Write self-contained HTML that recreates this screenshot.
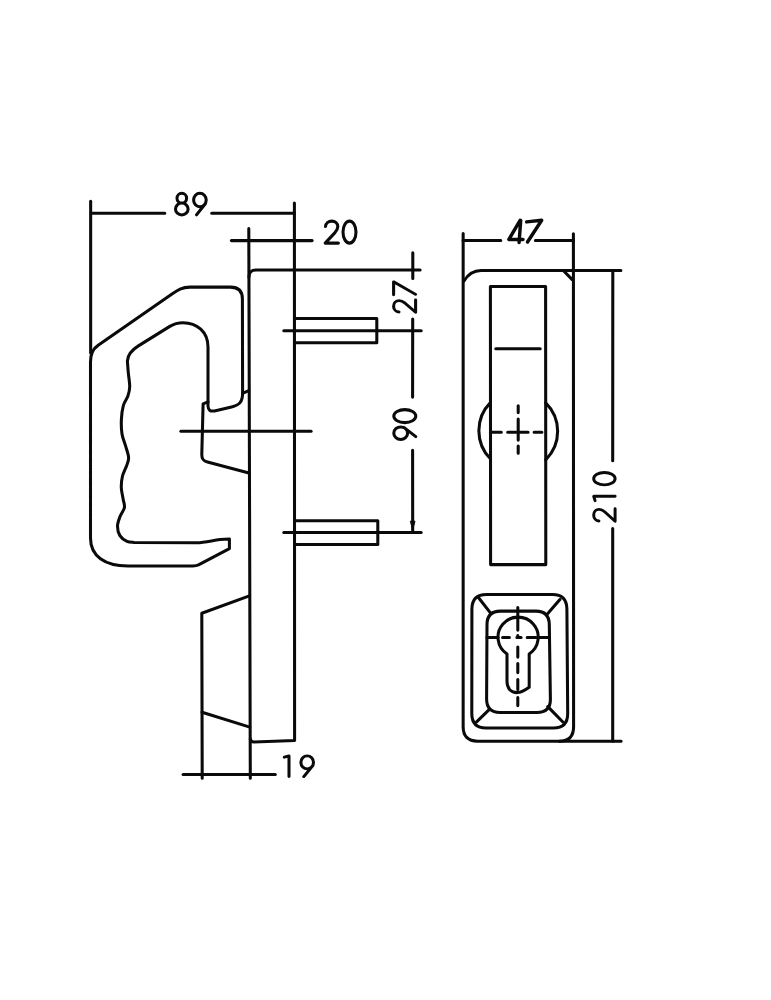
<!DOCTYPE html>
<html><head><meta charset="utf-8"><title>Drawing</title>
<style>
html,body{margin:0;padding:0;background:#ffffff;font-family:"Liberation Sans",sans-serif;}
body{width:771px;height:1000px;overflow:hidden;}
svg{display:block;}
</style></head><body>
<svg width="771" height="1000" viewBox="0 0 771 1000">
<rect width="771" height="1000" fill="#ffffff"/>
<g fill="none" stroke="#0a0a0a" stroke-width="3.05" stroke-linecap="round" stroke-linejoin="round">
<path d="M90.65,201.20000000000002 L90.65,353" />
<path d="M91.5,213.15 L164.79999999999998,213.15 M211.70000000000002,213.15 L294.4,213.15" />
<path d="M294.4,202.9 L294.6,740.6 L254,742.0 Q250.6,742.0 250.3,739" />
<path d="M248.8,228.6 L250.3,778.3000000000001" />
<path d="M231.4,240.6 L312.1,240.6" />
<path d="M248.95,277 Q248.95,270.0 256,270.0 L420.1,270.0" />
<path d="M412.8,252.8 L412.8,278.5 M412.7,319.09999999999997 L412.6,397.1 M412.6,450.2 L412.7,531.6" />
<path d="M295,318.4 L376.8,318.4 L376.8,342.7 L295,342.7" />
<path d="M283.79999999999995,330.7 L421.20000000000005,330.7" />
<path d="M295,520.8 L377.8,520.8 L377.8,544.5 L295,544.5" />
<path d="M410.7,521.2 L415,521.2 L412.8,529.5 Z" fill="#0a0a0a" stroke-width="1"/>
<path d="M283.79999999999995,532.5 L421.20000000000005,532.5" />
<path d="M180.9,431.3 L311.1,431.3" />
<path d="M90.5,362 C90.5,354 92.5,349 97.8,345.6 L172,294 C177.5,290.2 182,287.1 190,287.1 L230.5,287.1 C238.5,287.1 242.4,291 242.4,299 L242.6,393 C242.6,402 239.5,405 231.5,406.9 L214.5,410.9 C210,411.6 208.2,410 208,406 L208,347 C208,332 197,322.7 183,322.7 C177.5,322.7 174,323.8 169.8,326.4 L138.4,345.9 C131.5,350.2 127.6,354.5 127.4,361.1 C127.55,363.03 127.92,368.43 128.30,372.70 C128.68,376.97 129.77,382.80 129.70,386.70 C129.63,390.60 128.95,392.98 127.90,396.10 C126.85,399.22 124.48,401.52 123.40,405.40 C122.32,409.28 121.63,414.63 121.40,419.40 C121.17,424.17 121.32,429.62 122.00,434.00 C122.68,438.38 124.40,441.80 125.50,445.70 C126.60,449.60 128.40,454.10 128.60,457.40 C128.80,460.70 127.72,462.40 126.70,465.50 C125.68,468.60 123.40,472.30 122.50,476.00 C121.60,479.70 121.18,483.80 121.30,487.70 C121.42,491.60 122.68,496.08 123.20,499.40 C123.72,502.72 124.95,504.68 124.40,507.60 C123.85,510.52 121.05,513.80 119.90,516.90 C118.75,520.00 117.50,523.08 117.50,526.20 C117.50,529.32 118.32,533.07 119.90,535.60 C121.48,538.13 124.65,540.27 127.00,541.40 C129.35,542.53 132.83,542.23 134.00,542.40 L196.7,542.7 C205,542.5 212,540.5 220.1,539.5 L229.4,539 L229.4,548.6 L198.5,564.9 C196.5,565.8 195,565.9 193,565.9 L128,565.9 C104.5,565.9 90.5,556 90.5,538 Z" />
<path d="M208,401.9 L203.1,403.9 L201.8,454.5 C201.7,459.3 203.3,461 207.5,462 L248.9,473.0" />
<path d="M242.5,393.3 L248.8,390.6" />
<path d="M249.4,595.9 L201.8,613.3 L202.2,778.3000000000001" />
<path d="M202,712.2 L249.8,727.1" />
<path d="M183.1,774.5 L275.3,774.5" />
<path d="M463.15,233.6 L463.15,726.5 C463.1,736 468,741.2 477.5,741.2 L621.1,741.2" />
<path d="M463.8,281.2 C467.5,275 472.5,270.45 481,270.45 L620.9,270.45" />
<path d="M573.4,233.8 L573.6,726.5 C573.6,736 569,741.2 559.5,741.2" />
<path d="M564,271.3 L572,279.4" />
<path d="M463.1,240.45 L500.8,240.45 M535.4,240.45 L573.4,240.45" />
<path d="M612.8,270.45 L612.7,460.8 M612.7,528.4 L612.7,741.2" />
<path d="M490.4,286.4 L545.6,286.4 L545.8,564.6 L490.6,564.6 Z" />
<path d="M495.79999999999995,348.8 L540.2,348.8" />
<path d="M490.4,402.6 A40,40 0 0 0 490.4,458.8" />
<path d="M545.7,402.8 A40,40 0 0 1 545.7,459.8" />
<path d="M490.4,432.2 L501.3,432.2 M507.7,432.2 L528.1,432.2 M534.1,432.2 L541.9,432.2" />
<path d="M518.2,405.7 L518.2,412.6 M518.2,419.09999999999997 L518.2,440.1 M518.2,446.0 L518.2,453.20000000000005" />
<path d="M486.5,594.4 L552.5,594.4 C562.5,594.4 566.8,599.5 566.9,609 L567.7,713.5 C567.7,723 563,728 553.5,728 L486,728 C476.5,728 471.8,723 471.8,713.5 L471.9,609 C471.9,599.5 476.5,594.4 486.5,594.4 Z" />
<path d="M500.5,611.1 L536,611.1 C545,611.1 549.2,615.8 549.3,624.5 L550.4,699.5 C550.4,708.2 546,712.4 537,712.4 L500,712.4 C491,712.4 486.6,708.2 486.6,699 L487,624.5 C487,615.8 491.5,611.1 500.5,611.1 Z" />
<path d="M478.6,597.8 L491,613.6 M559.9,599.5 L547.8,613.6 M476.6,721.8 L489.4,709.3 M562.6,721.8 L547.8,706.6" />
<path d="M507,654 A20.1,20.1 0 1 1 529.2,654 L529.2,687.2 C524.5,690.5 521,692.5 517.4,692.6 C510.5,692.6 507,688 507,681 Z" />
<path d="M487,637.4 L498,637.4 M502.59999999999997,637.4 L509.40000000000003,637.4 M516.9,637.4 L521.1,637.4 M527.1999999999999,637.4 L536.1,637.4 M538.2,637.4 L549.5,637.4" />
<path d="M517.8,607.4 L517.8,630.1 M517.8,635.4 L517.8,637.1 M517.8,646.9 L517.8,657.1 M517.8,663.4 L517.8,672.6 M517.8,679.4 L517.8,689.6 M517.8,697.4 L517.8,705.6" />
</g>
<g fill="none" stroke="#0a0a0a" stroke-width="3.05" stroke-linecap="round" stroke-linejoin="round">
<g transform="translate(175.5,214.9) rotate(0) scale(1,0.9818181818181819)"><path transform="translate(0,0)" d="M6.3,-22 C9,-22 11.1,-19.8 11.1,-17 C11.1,-14.2 9,-12 6.3,-12 C3.6,-12 1.5,-14.2 1.5,-17 C1.5,-19.8 3.6,-22 6.3,-22 Z M6.3,-12 C9.8,-12 12.6,-9.3 12.6,-6 C12.6,-2.7 9.8,0 6.3,0 C2.8,0 0,-2.7 0,-6 C0,-9.3 2.8,-12 6.3,-12 Z"/><path transform="translate(18.1,0)" d="M6.3,-22 C9.8,-22 12.6,-18.9 12.6,-15.1 C12.6,-11.3 9.8,-8.2 6.3,-8.2 C2.8,-8.2 0,-11.3 0,-15.1 C0,-18.9 2.8,-22 6.3,-22 Z M11.9,-11.6 L2.9,0"/></g>
<g transform="translate(325.2,243.1) rotate(0) scale(1,1)"><path transform="translate(0,0)" d="M0.3,-16.6 C0.5,-19.8 3.2,-22 6.6,-22 C10,-22 12.6,-19.7 12.6,-16.5 C12.6,-14.3 11.6,-12.6 9.8,-10.5 L0,0 L13.2,0"/><path transform="translate(17.8,0)" d="M6.5,-22 C10.1,-22 13,-17.1 13,-11 C13,-4.9 10.1,0 6.5,0 C2.9,0 0,-4.9 0,-11 C0,-17.1 2.9,-22 6.5,-22 Z"/></g>
<g transform="translate(415.6,312.3) rotate(-90) scale(0.93,1.0)"><path transform="translate(0,0)" d="M0.3,-16.6 C0.5,-19.8 3.2,-22 6.6,-22 C10,-22 12.6,-19.7 12.6,-16.5 C12.6,-14.3 11.6,-12.6 9.8,-10.5 L0,0 L13.2,0"/><path transform="translate(18.8,0)" d="M0,-22 L14,-22 L0.5,0"/></g>
<g transform="translate(415.8,439.5) rotate(-90) scale(1,1)"><path transform="translate(0,0)" d="M6.3,-22 C9.8,-22 12.6,-18.9 12.6,-15.1 C12.6,-11.3 9.8,-8.2 6.3,-8.2 C2.8,-8.2 0,-11.3 0,-15.1 C0,-18.9 2.8,-22 6.3,-22 Z M11.9,-11.6 L2.9,0"/><path transform="translate(16.9,0)" d="M6.5,-22 C10.1,-22 13,-17.1 13,-11 C13,-4.9 10.1,0 6.5,0 C2.9,0 0,-4.9 0,-11 C0,-17.1 2.9,-22 6.5,-22 Z"/></g>
<g transform="translate(284.4,776.6) rotate(0) scale(1,0.9409090909090909)"><path transform="translate(0,0)" d="M0,-20.6 L4.6,-22 L4.6,0"/><path transform="translate(16.5,0)" d="M6.3,-22 C9.8,-22 12.6,-18.9 12.6,-15.1 C12.6,-11.3 9.8,-8.2 6.3,-8.2 C2.8,-8.2 0,-11.3 0,-15.1 C0,-18.9 2.8,-22 6.3,-22 Z M11.9,-11.6 L2.9,0"/></g>
<g transform="translate(615.1,521.3) rotate(-90) scale(0.95,0.9727272727272727)"><path transform="translate(0,0)" d="M0.3,-16.6 C0.5,-19.8 3.2,-22 6.6,-22 C10,-22 12.6,-19.7 12.6,-16.5 C12.6,-14.3 11.6,-12.6 9.8,-10.5 L0,0 L13.2,0"/><path transform="translate(21.7,0)" d="M0,-20.6 L4.6,-22 L4.6,0"/><path transform="translate(38.3,0)" d="M6.5,-22 C10.1,-22 13,-17.1 13,-11 C13,-4.9 10.1,0 6.5,0 C2.9,0 0,-4.9 0,-11 C0,-17.1 2.9,-22 6.5,-22 Z"/></g>
<path stroke-width="3.45" d="M520.1,220.4 L508.9,239.4 L523.0,239.4 M520.7,220.4 L519.1,242.5"/>
<path stroke-width="3.45" d="M526.6,221.9 L541.7,220.3 L527.5,242.0"/>
</g>
</svg>
</body></html>
